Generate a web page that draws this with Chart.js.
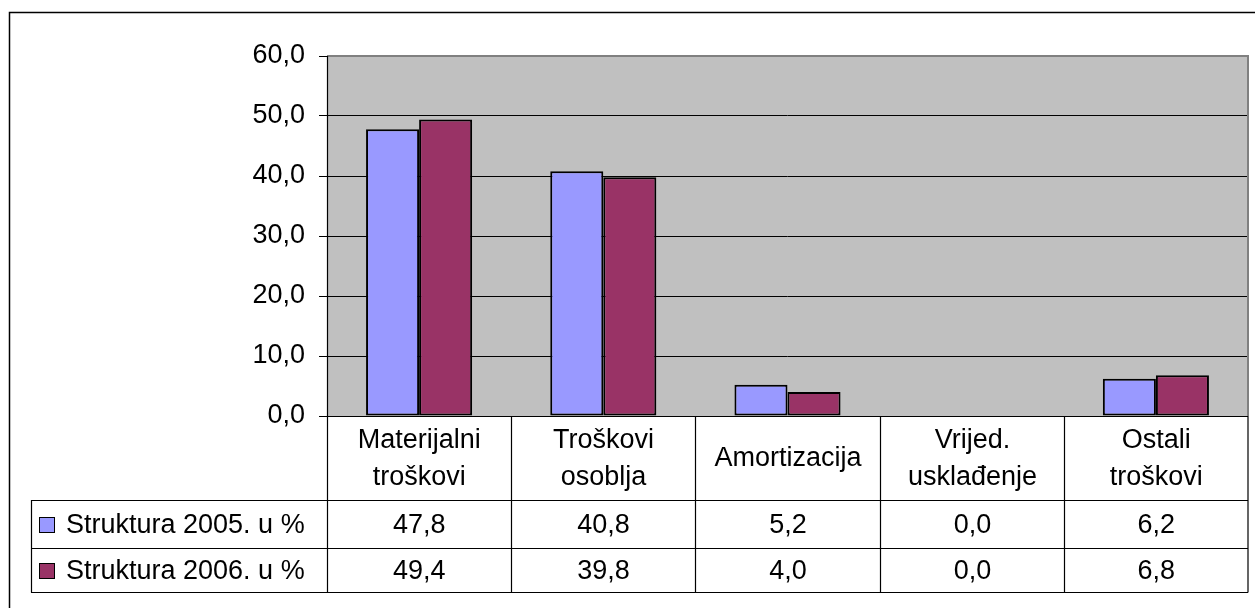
<!DOCTYPE html>
<html>
<head>
<meta charset="utf-8">
<script src="https://cdn.jsdelivr.net/npm/chart.js@4/dist/chart.umd.min.js"></script>
<style>
  html, body { margin: 0; padding: 0; background: #fff; }
  #wrap { width: 1255px; height: 608px; }
</style>
</head>
<body>
<div id="wrap"><canvas id="costChart" width="1255" height="608"></canvas></div>
<script>
// -------- DATA --------
const categories = [
    ["Materijalni", "troškovi"],
    ["Troškovi", "osoblja"],
    ["Amortizacija"],
    ["Vrijed.", "usklađenje"],
    ["Ostali", "troškovi"]
];
const seriesNames = ["Struktura 2005. u %", "Struktura 2006. u %"];
const values2005 = [47.8, 40.8, 5.2, 0.0, 6.2];
const values2006 = [49.4, 39.8, 4.0, 0.0, 6.8];
const seriesColors = ["#9999FF", "#993366"];
const yMin = 0, yMax = 60, yStep = 10;

const FONT = "'Liberation Sans', Arial, sans-serif";
const FONT_SIZE = 27;

const fmt = v => v.toFixed(1).replace(".", ",");

// -------- PLOT AREA + DATA TABLE --------
const tablePlugin = {
    id: "excelTable",
    beforeDraw(chart) {
        const { ctx, chartArea: a } = chart;
        ctx.save();
        ctx.fillStyle = "#C0C0C0";
        ctx.fillRect(a.left, a.top, a.right - a.left, a.bottom - a.top);
        ctx.restore();
    },
    afterDatasetsDraw(chart) {
        const { ctx, chartArea: a } = chart;
        const xs = chart.scales.x;
        const n = categories.length;

        const rowTop = a.bottom;
        const row1 = rowTop + 84;
        const row2 = row1 + 48;
        const rowEnd = row2 + 44;
        const legendLeft = 31;

        // category boundaries from the scale
        const bounds = [a.left];
        for (let i = 1; i < n; i++) {
            bounds.push(Math.round((xs.getPixelForValue(i - 1) + xs.getPixelForValue(i)) / 2) + 0.5);
        }
        bounds.push(a.right);

        ctx.save();
        // plot border (top, right) in grey
        ctx.strokeStyle = "#808080";
        ctx.lineWidth = 2;
        ctx.beginPath();
        ctx.moveTo(a.left, a.top);
        ctx.lineTo(a.right, a.top);
        ctx.lineTo(a.right, a.bottom);
        ctx.stroke();

        ctx.strokeStyle = "#000";
        ctx.lineWidth = 1.2;
        ctx.beginPath();
        // horizontal table lines
        ctx.moveTo(a.left, rowTop + 0.5); ctx.lineTo(a.right, rowTop + 0.5);
        [row1, row2, rowEnd].forEach(y => {
            ctx.moveTo(legendLeft, y + 0.5); ctx.lineTo(a.right, y + 0.5);
        });
        // vertical lines
        ctx.moveTo(legendLeft + 0.5, row1); ctx.lineTo(legendLeft + 0.5, rowEnd + 0.5);
        ctx.moveTo(a.left + 0.5, a.top); ctx.lineTo(a.left + 0.5, rowEnd + 0.5);
        bounds.slice(1).forEach(x => {
            ctx.moveTo(x, rowTop); ctx.lineTo(x, rowEnd + 0.5);
        });
        ctx.stroke();

        // category labels
        ctx.fillStyle = "#000";
        ctx.font = FONT_SIZE + "px " + FONT;
        ctx.textAlign = "center";
        ctx.textBaseline = "middle";
        const headMid = (rowTop + row1) / 2 + 1;
        categories.forEach((lines, i) => {
            const cx = (bounds[i] + bounds[i + 1]) / 2;
            const lh = 37;
            lines.forEach((t, k) => {
                const y = headMid + (k - (lines.length - 1) / 2) * lh;
                ctx.fillText(t, cx, y);
            });
        });

        // value rows
        const rows = [
            { top: row1, bottom: row2, vals: values2005 },
            { top: row2, bottom: rowEnd, vals: values2006 }
        ];
        rows.forEach((r, s) => {
            const my = (r.top + r.bottom) / 2 + 2;
            ctx.textAlign = "center";
            r.vals.forEach((v, i) => {
                ctx.fillText(fmt(v), (bounds[i] + bounds[i + 1]) / 2, my);
            });
            // legend key + name
            ctx.fillStyle = seriesColors[s];
            ctx.fillRect(39, my - 9, 16, 16);
            ctx.strokeStyle = "#000";
            ctx.lineWidth = 1;
            ctx.strokeRect(39.5, my - 8.5, 15, 15);
            ctx.fillStyle = "#000";
            ctx.textAlign = "left";
            ctx.fillText(seriesNames[s], 66, my);
        });

        // outer chart frame
        ctx.strokeStyle = "#000";
        ctx.lineWidth = 1.5;
        ctx.beginPath();
        ctx.moveTo(9.5, 610);
        ctx.lineTo(9.5, 12.5);
        ctx.lineTo(1260, 12.5);
        ctx.stroke();
        ctx.restore();
    }
};

// -------- CHART --------
const ctx = document.getElementById("costChart").getContext("2d");

new Chart(ctx, {
    type: "bar",
    data: {
        labels: categories,
        datasets: [
            {
                label: seriesNames[0],
                data: values2005,
                backgroundColor: seriesColors[0],
                borderColor: "#000",
                borderWidth: 2,
                borderSkipped: false
            },
            {
                label: seriesNames[1],
                data: values2006,
                backgroundColor: seriesColors[1],
                borderColor: "#000",
                borderWidth: 2,
                borderSkipped: false
            }
        ]
    },
    options: {
        responsive: false,
        animation: false,
        devicePixelRatio: 1,
        layout: {
            padding: { left: 0, top: 56, right: 7, bottom: 192 }
        },
        categoryPercentage: 0.576,
        barPercentage: 1.0,
        plugins: {
            legend: { display: false },
            tooltip: { enabled: false },
            title: { display: false }
        },
        scales: {
            x: {
                display: false
            },
            y: {
                min: yMin,
                max: yMax,
                afterFit(scale) { scale.width = 327; },
                border: { display: false },
                grid: {
                    color: c => (c.tick && c.tick.value === yMax) ? "rgba(0,0,0,0)" : "#000",
                    tickColor: "#000",
                    lineWidth: 1,
                    tickLength: 8,
                    drawTicks: true
                },
                ticks: {
                    stepSize: yStep,
                    padding: 14,
                    color: "#000",
                    font: { family: FONT, size: FONT_SIZE },
                    callback: v => fmt(v)
                }
            }
        }
    },
    plugins: [tablePlugin]
});
</script>
</body>
</html>
